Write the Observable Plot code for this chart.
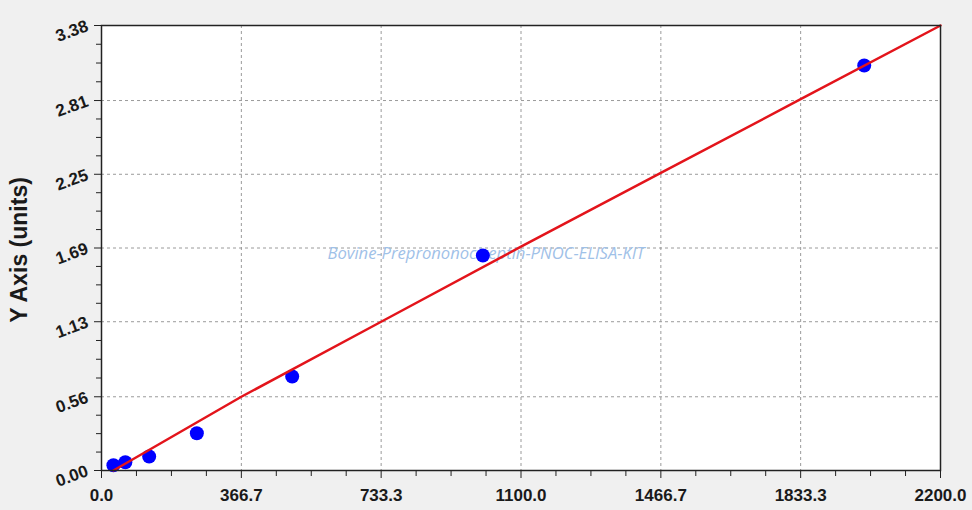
<!DOCTYPE html>
<html><head><meta charset="utf-8">
<script src="https://cdn.jsdelivr.net/npm/d3@7"></script>
<script src="https://cdn.jsdelivr.net/npm/@observablehq/plot@0.6"></script>
<style>html,body{margin:0;padding:0;background:#f0f0f0}</style>
</head><body><div id="chart"></div>
<script>
const concentration = [31.25, 62.5, 125, 250, 500, 1000, 2000];
const od = [0.04, 0.063, 0.106, 0.283, 0.714, 1.633, 3.076];
const fitX = [31.25, 366.7, 733.3, 1100, 1466.7, 1833.3, 2200];
const fitY = [0.0, 0.56, 1.13, 1.70, 2.26, 2.82, 3.38];
const xTicks = [0, 366.7, 733.3, 1100, 1466.7, 1833.3, 2200];
const xTickLabels = ["0.0", "366.7", "733.3", "1100.0", "1466.7", "1833.3", "2200.0"];
const yTicks = [0, 0.56, 1.13, 1.69, 2.25, 2.81, 3.38];
const yTickLabels = ["0.00", "0.56", "1.13", "1.69", "2.25", "2.81", "3.38"];
const title = "Bovine-Preprononociceptin-PNOC-ELISA-KIT";
const yLabel = "Y Axis (units)";

const points = concentration.map((c, i) => ({x: c, y: od[i]}));
const fit = fitX.map((v, i) => ({x: v, y: fitY[i]}));
function minors(t) {
  const out = [];
  for (let i = 0; i < t.length - 1; i++)
    for (let k = 1; k < 4; k++) out.push(t[i] + (t[i + 1] - t[i]) * k / 4);
  return out;
}
const minorX = minors(xTicks), minorY = minors(yTicks);

const chart = Plot.plot({
  width: 972, height: 510,
  marginLeft: 101, marginRight: 32, marginTop: 25, marginBottom: 40,
  style: {background: "#f0f0f0", fontFamily: "'Liberation Sans', Arial, sans-serif", fontSize: "17px", fontWeight: "bold", color: "#1a1a1a"},
  x: {domain: [0, 2200]},
  y: {domain: [0, 3.38]},
  marks: [
    Plot.frame({fill: "white"}),
    Plot.gridX(xTicks.slice(1, -1), {stroke: "#9a9a9a", strokeOpacity: 1, strokeDasharray: "3,3"}),
    Plot.gridY(yTicks.slice(1, -1), {stroke: "#9a9a9a", strokeOpacity: 1, strokeDasharray: "3,3"}),
    Plot.text([title], {frameAnchor: "middle", dx: -35, dy: 6, fill: "#9fc1e8", fontSize: 16.6, fontStyle: "italic", fontWeight: "normal", fontFamily: "'Open Sans', sans-serif"}),
    Plot.dot(points, {x: "x", y: "y", r: 7, fill: "#0000ff", stroke: "none"}),
    Plot.line(fit, {x: "x", y: "y", stroke: "#e3141b", strokeWidth: 2.5}),
    Plot.axisX({ticks: xTicks, tickFormat: d => xTickLabels[xTicks.indexOf(d)], tickSize: 8, tickPadding: 10, label: null, stroke: "#222"}),
    Plot.axisX({ticks: minorX, tickFormat: () => "", tickSize: 6, label: null, stroke: "#222"}),
    Plot.axisY({ticks: yTicks, tickFormat: d => yTickLabels[yTicks.indexOf(d)], tickSize: 7, tickPadding: 7, tickRotate: -20, label: null, stroke: "#222"}),
    Plot.axisY({ticks: minorY, tickFormat: () => "", tickSize: 5, label: null, stroke: "#222"}),
    Plot.frame({stroke: "#222", strokeWidth: 1.5}),
    Plot.text([yLabel], {frameAnchor: "left", textAnchor: "middle", dx: -82, dy: 2, rotate: -90, fontSize: 23, fontWeight: "bold", fill: "#1a1a1a"})
  ]
});
document.getElementById("chart").appendChild(chart);
</script>
</body></html>
